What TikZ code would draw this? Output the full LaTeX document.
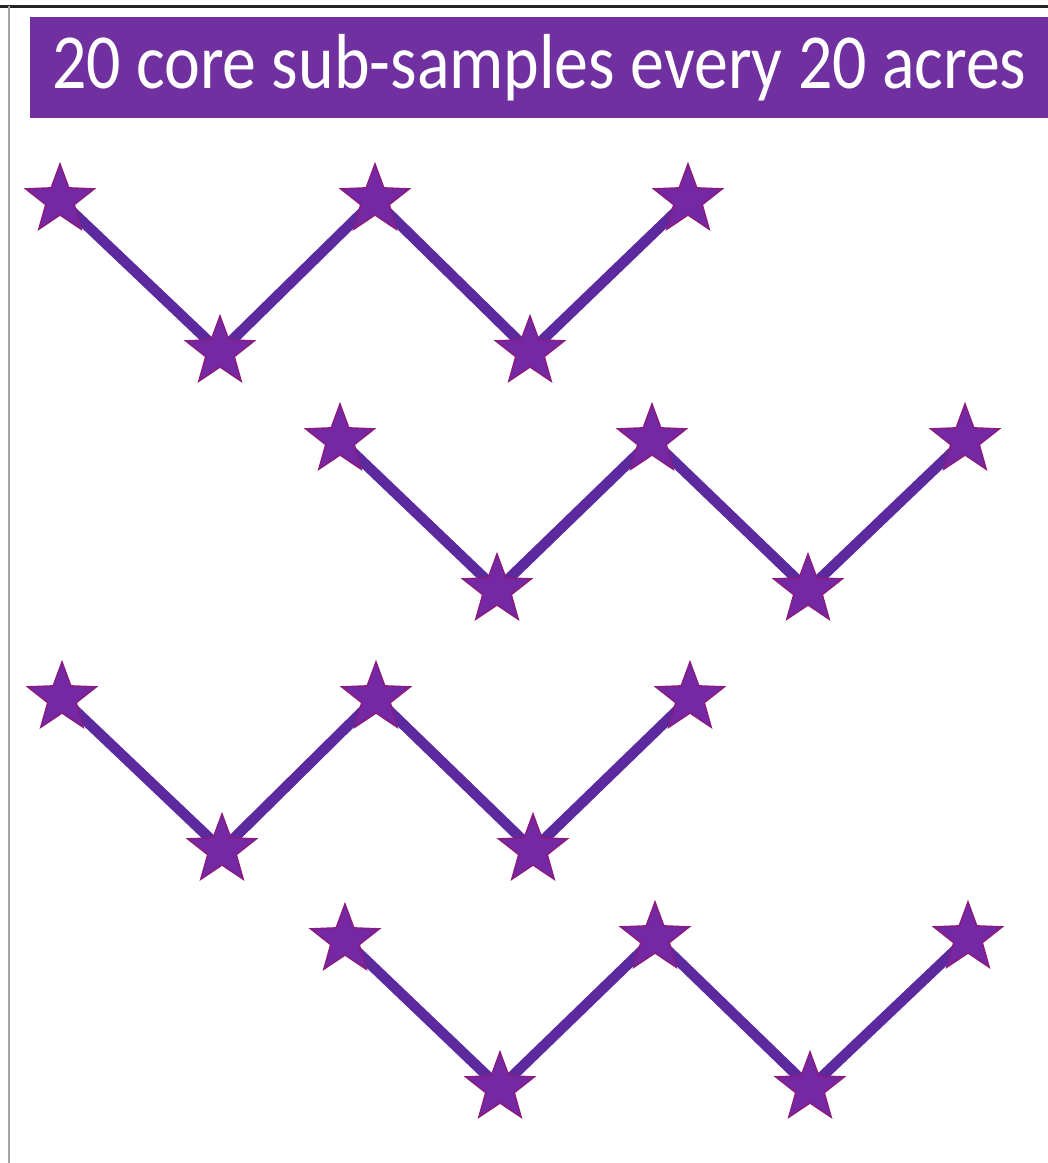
\documentclass[tikz,border=0pt]{standalone}
\usepackage{fontspec}
\setmainfont{Carlito}
\usetikzlibrary{shapes.geometric,backgrounds}
\definecolor{barpurple}{HTML}{7030A0}
\definecolor{starfill}{HTML}{7428A4}
\definecolor{staredge}{HTML}{8A1C80}
\definecolor{linepurple}{HTML}{5C2A9E}
\tikzset{
  samplestar/.style={star, star points=5, star point ratio=2.4, minimum size=72pt,
    inner sep=0pt, fill=starfill, draw=staredge, line width=1.5pt},
  zigline/.style={draw=linepurple, line width=10.5pt},
}
\begin{document}
\begin{tikzpicture}[x=1pt,y=-1pt]
\useasboundingbox (0,0) rectangle (1048,1163);
\draw[black!85, line width=3pt] (0,6) -- (1048,6);
\draw[black!35, line width=2pt] (9,6) -- (9,1163);
\node[fill=barpurple, minimum width=1018pt, minimum height=101pt, inner sep=0pt, anchor=north west,
  text=white, font=\fontsize{78}{82}\selectfont] (title) at (30,17) {\scalebox{0.87}[1]{20 core sub-samples every 20 acres}};
% row 1
\node[samplestar] (a1) at (60,200) {};
\node[samplestar] (a2) at (220,352) {};
\node[samplestar] (a3) at (375,200) {};
\node[samplestar] (a4) at (530,352) {};
\node[samplestar] (a5) at (688,200) {};
% row 2
\node[samplestar] (b1) at (340,440) {};
\node[samplestar] (b2) at (497,590) {};
\node[samplestar] (b3) at (652,440) {};
\node[samplestar] (b4) at (808,590) {};
\node[samplestar] (b5) at (965,440) {};
% row 3
\node[samplestar] (c1) at (62,698) {};
\node[samplestar] (c2) at (222,850) {};
\node[samplestar] (c3) at (376,698) {};
\node[samplestar] (c4) at (533,850) {};
\node[samplestar] (c5) at (690,698) {};
% row 4
\node[samplestar] (d1) at (345,940) {};
\node[samplestar] (d2) at (500,1088) {};
\node[samplestar] (d3) at (655,938) {};
\node[samplestar] (d4) at (810,1088) {};
\node[samplestar] (d5) at (968,938) {};
\begin{scope}[on background layer]
\foreach \r in {a,b,c,d}{
  \draw[zigline] (\r1.center) -- (\r2.center) -- (\r3.center) -- (\r4.center) -- (\r5.center);
}
\end{scope}
\end{tikzpicture}
\end{document}
